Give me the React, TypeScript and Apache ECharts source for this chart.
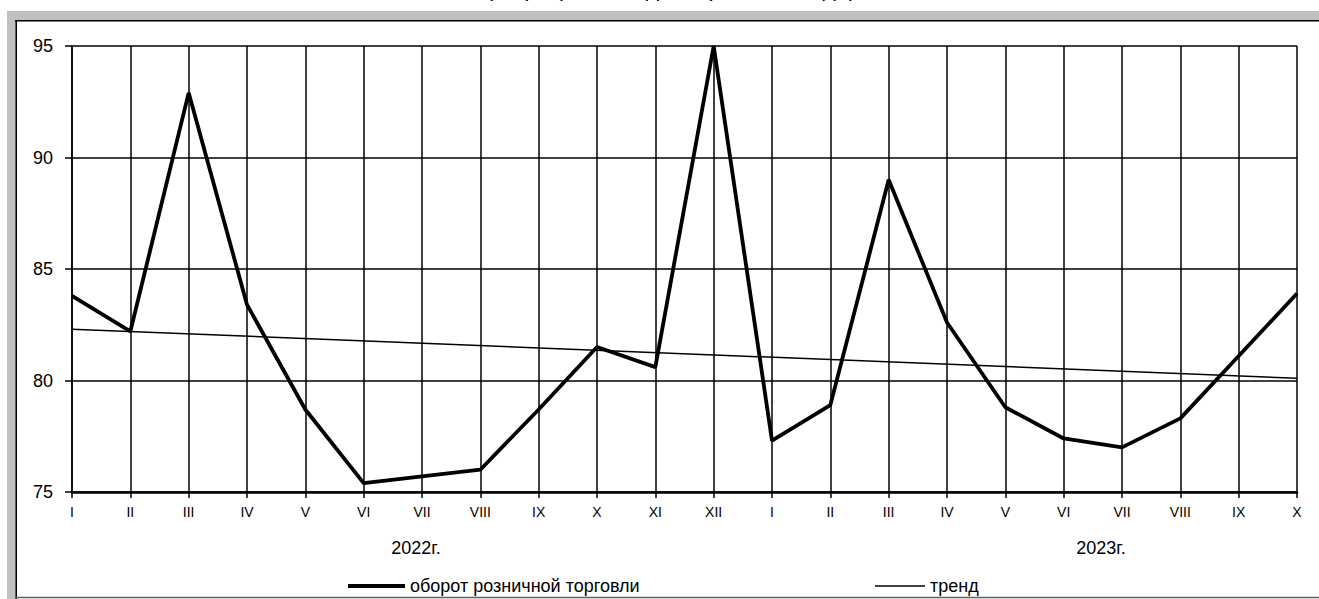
import React, { useEffect, useRef } from "react";
import * as echarts from "echarts";

const months = ["I", "II", "III", "IV", "V", "VI", "VII", "VIII", "IX", "X", "XI", "XII", "I", "II", "III", "IV", "V", "VI", "VII", "VIII", "IX", "X"];
const retail = [83.8, 82.2, 92.9, 83.4, 78.7, 75.4, 75.7, 76.0, 78.7, 81.5, 80.6, 95.0, 77.3, 78.9, 89.0, 82.6, 78.8, 77.4, 77.0, 78.3, 81.1, 83.9];
const trendPoints = [[0, 82.3], [21, 80.1]];
const yearLabels = ["2022г.", "2023г."];
const seriesNames = ["оборот розничной торговли", "тренд"];
const titleText = "(в процентах к декабрю 2021 года)";
const yMin = 75;
const yMax = 95;
const yStep = 5;

const FONT = '"Liberation Sans", Arial, sans-serif';

export default function App() {
  const ref = useRef<HTMLDivElement>(null);
  useEffect(() => {
    if (!ref.current) return;
    const chart = echarts.init(ref.current, null, { renderer: "svg" });
    chart.setOption({
      animation: false,
      backgroundColor: "#ffffff",
      textStyle: { fontFamily: FONT },
      grid: { left: 72, right: 22, top: 46, bottom: 107, containLabel: false },
      xAxis: {
        type: "category",
        data: months,
        boundaryGap: false,
        axisLine: { show: true, lineStyle: { color: "#000", width: 2.5 } },
        axisTick: { show: true, interval: 0, length: 6, lineStyle: { color: "#000", width: 1.5 } },
        axisLabel: { interval: 0, color: "#000", fontSize: 14, margin: 13, fontFamily: FONT },
        splitLine: { show: true, interval: 0, lineStyle: { color: "#000", width: 1.5 } },
      },
      yAxis: {
        type: "value",
        min: yMin,
        max: yMax,
        interval: yStep,
        axisLine: { show: true, lineStyle: { color: "#000", width: 1.5 } },
        axisTick: { show: true, length: 7, lineStyle: { color: "#000", width: 1.5 } },
        axisLabel: { color: "#000", fontSize: 18, margin: 19, fontFamily: FONT },
        splitLine: { show: true, lineStyle: { color: "#000", width: 1.5 } },
      },
      legend: [
        {
          data: [seriesNames[0]],
          left: 343,
          top: 572,
          icon: "rect",
          itemWidth: 57,
          itemHeight: 4,
          textStyle: { color: "#000", fontSize: 18, fontFamily: FONT },
          selectedMode: false,
        },
        {
          data: [seriesNames[1]],
          left: 870,
          top: 572,
          icon: "rect",
          itemWidth: 50,
          itemHeight: 1.5,
          textStyle: { color: "#000", fontSize: 18, fontFamily: FONT },
          selectedMode: false,
        },
      ],
      graphic: [
        { type: "rect", silent: true, shape: { x: 7, y: 11, width: 1312, height: 9 }, style: { fill: "#c0c0c0" } },
        { type: "rect", silent: true, shape: { x: 7, y: 11, width: 8.5, height: 588 }, style: { fill: "#c0c0c0" } },
        { type: "line", silent: true, shape: { x1: 15, y1: 20.8, x2: 1319, y2: 20.8 }, style: { stroke: "#000", lineWidth: 1.6 } },
        { type: "line", silent: true, shape: { x1: 16.2, y1: 20, x2: 16.2, y2: 599 }, style: { stroke: "#000", lineWidth: 1.6 } },
        { type: "line", silent: true, shape: { x1: 16, y1: 597.6, x2: 1319, y2: 597.6 }, style: { stroke: "#606060", lineWidth: 1.5 } },
        {
          type: "text",
          silent: true,
          x: 671,
          y: -12,
          style: { text: titleText, fill: "#000", fontSize: 23, fontFamily: FONT, align: "center", verticalAlign: "middle" },
        },
        {
          type: "text",
          silent: true,
          x: 416,
          y: 547.5,
          style: { text: yearLabels[0], fill: "#000", fontSize: 18, fontFamily: FONT, align: "center", verticalAlign: "middle" },
        },
        {
          type: "text",
          silent: true,
          x: 1101,
          y: 547.5,
          style: { text: yearLabels[1], fill: "#000", fontSize: 18, fontFamily: FONT, align: "center", verticalAlign: "middle" },
        },
      ],
      series: [
        {
          name: seriesNames[1],
          type: "line",
          data: trendPoints,
          symbol: "none",
          color: "#000",
          lineStyle: { color: "#000", width: 1.5 },
          z: 3,
        },
        {
          name: seriesNames[0],
          type: "line",
          data: retail,
          symbol: "none",
          color: "#000",
          lineStyle: { color: "#000", width: 3.8 },
          z: 4,
        },
      ],
    });
    return () => chart.dispose();
  }, []);
  return <div ref={ref} style={{ position: "fixed", left: 0, top: 0, width: 1319, height: 599 }} />;
}
